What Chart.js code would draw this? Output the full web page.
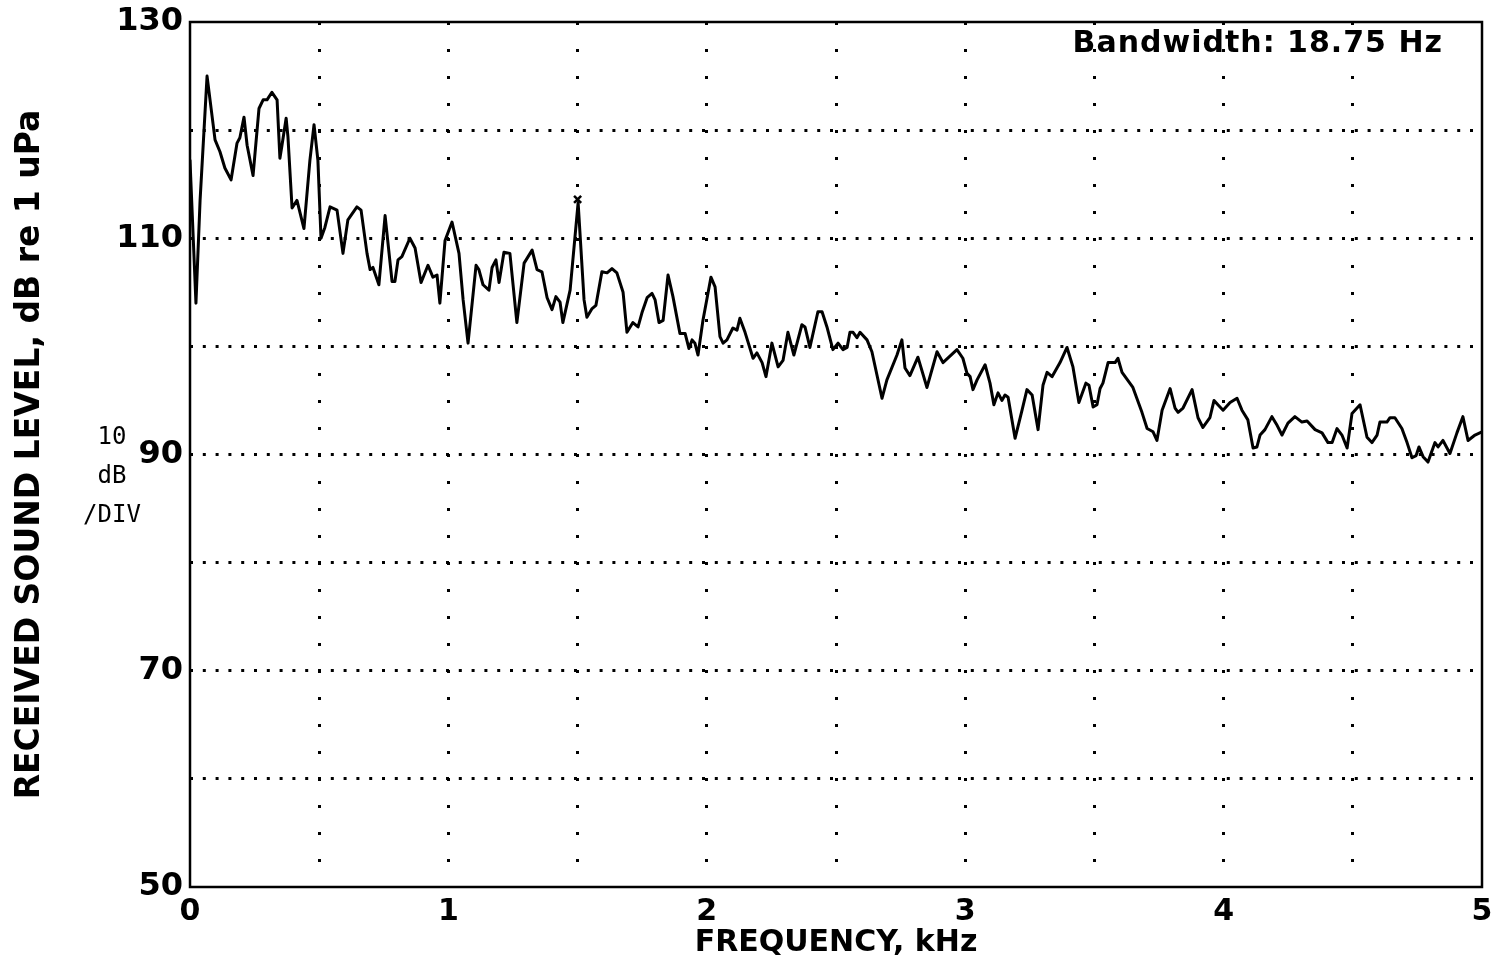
<!DOCTYPE html>
<html><head><meta charset="utf-8">
<script src="https://cdn.jsdelivr.net/npm/chart.js@4.4.1/dist/chart.umd.min.js"></script>
<style>
html,body{margin:0;padding:0;background:#fff;}
#wrap{position:relative;width:1492px;height:980px;}
#bw{position:absolute;right:49px;top:27px;font:bold 30px "DejaVu Sans";letter-spacing:1px;color:#000;line-height:30px;white-space:nowrap;}
#divlbl{position:absolute;left:52px;top:417px;width:120px;text-align:center;font:24px "DejaVu Sans Mono";line-height:39px;color:#000;}
</style></head><body>
<div id="wrap"><canvas id="c" width="1492" height="980"></canvas>
<div id="bw">Bandwidth: 18.75 Hz</div>
<div id="divlbl">10<br>dB<br>/DIV</div></div>
<script>
const freqKHz = [0.00,0.023,0.039,0.066,0.097,0.116,0.135,0.159,0.182,0.193,0.209,0.221,0.244,0.267,0.283,0.298,0.317,0.337,0.348,0.356,0.372,0.379,0.395,0.414,0.441,0.464,0.480,0.495,0.507,0.522,0.542,0.569,0.592,0.611,0.646,0.662,0.685,0.697,0.708,0.731,0.755,0.766,0.782,0.793,0.805,0.820,0.851,0.871,0.894,0.921,0.940,0.956,0.967,0.987,1.014,1.041,1.057,1.076,1.107,1.118,1.134,1.157,1.169,1.184,1.196,1.215,1.238,1.265,1.293,1.324,1.343,1.362,1.382,1.401,1.416,1.432,1.443,1.471,1.502,1.525,1.536,1.556,1.571,1.594,1.614,1.633,1.652,1.676,1.691,1.714,1.734,1.749,1.769,1.788,1.800,1.815,1.831,1.850,1.869,1.896,1.916,1.931,1.943,1.954,1.966,1.985,2.016,2.032,2.051,2.063,2.078,2.101,2.117,2.128,2.148,2.179,2.194,2.214,2.229,2.252,2.276,2.295,2.314,2.337,2.368,2.380,2.399,2.430,2.446,2.465,2.488,2.508,2.527,2.543,2.554,2.566,2.581,2.593,2.620,2.639,2.678,2.697,2.736,2.755,2.767,2.786,2.817,2.852,2.891,2.914,2.968,2.991,3.007,3.019,3.030,3.046,3.077,3.096,3.111,3.127,3.142,3.154,3.166,3.193,3.220,3.239,3.259,3.282,3.301,3.317,3.336,3.367,3.394,3.417,3.440,3.467,3.479,3.495,3.510,3.522,3.533,3.553,3.580,3.591,3.607,3.649,3.684,3.704,3.727,3.742,3.762,3.793,3.812,3.824,3.843,3.878,3.901,3.920,3.947,3.963,3.978,3.998,4.025,4.052,4.071,4.094,4.114,4.129,4.141,4.160,4.187,4.207,4.226,4.249,4.276,4.303,4.323,4.354,4.381,4.404,4.420,4.439,4.458,4.478,4.497,4.528,4.555,4.574,4.594,4.605,4.632,4.644,4.663,4.690,4.710,4.729,4.745,4.756,4.772,4.791,4.818,4.830,4.849,4.876,4.903,4.926,4.946,4.973,5.000];
const levelDB = [117.2,104.0,113.5,125.0,119.1,118.0,116.5,115.4,118.8,119.3,121.2,118.6,115.8,122.0,122.8,122.8,123.5,122.8,117.4,118.6,121.1,119.4,112.8,113.5,110.9,117.2,120.5,117.2,110.0,111.0,112.9,112.6,108.6,111.7,112.9,112.6,108.6,107.1,107.3,105.7,112.1,109.6,106.0,106.0,108.0,108.3,110.0,109.1,105.9,107.5,106.4,106.6,104.0,109.8,111.5,108.6,104.3,100.3,107.5,107.1,105.7,105.2,107.3,108.0,105.9,108.7,108.6,102.2,107.7,108.9,107.1,106.9,104.5,103.4,104.6,104.1,102.2,105.2,113.3,104.3,102.7,103.5,103.8,106.9,106.8,107.2,106.8,105.0,101.3,102.2,101.8,103.1,104.5,104.9,104.3,102.2,102.4,106.6,104.6,101.2,101.2,99.8,100.6,100.3,99.2,102.4,106.4,105.5,100.9,100.3,100.6,101.7,101.5,102.6,101.3,98.9,99.4,98.5,97.2,100.3,98.1,98.7,101.3,99.2,102.0,101.8,99.9,103.2,103.2,101.8,99.7,100.3,99.7,99.9,101.3,101.3,100.8,101.3,100.6,99.5,95.2,96.9,99.2,100.6,98.0,97.3,99.0,96.2,99.5,98.5,99.7,98.9,97.5,97.2,96.0,96.9,98.3,96.6,94.6,95.7,95.0,95.5,95.3,91.5,94.1,96.0,95.5,92.3,96.4,97.6,97.2,98.5,99.9,98.1,94.8,96.6,96.4,94.4,94.6,96.1,96.6,98.5,98.5,98.9,97.6,96.2,93.9,92.4,92.1,91.3,94.1,96.1,94.3,93.9,94.3,96.0,93.4,92.5,93.4,95.0,94.6,94.1,94.8,95.2,94.1,93.2,90.6,90.7,91.8,92.3,93.5,92.7,91.8,92.9,93.5,93.0,93.1,92.3,92.0,91.1,91.1,92.4,91.8,90.6,93.8,94.6,91.6,91.1,91.8,93.0,93.0,93.4,93.4,92.4,91.1,89.7,89.9,90.7,89.8,89.3,91.1,90.7,91.3,90.1,92.0,93.5,91.3,91.8,92.1];
const markerFreq = [1.5];
const markerLevel = [113.6];
const xTickLabels = ['0','1','2','3','4','5'];
const yTickLabels = ['50','70','90','110','130'];

const FONT = 'DejaVu Sans';
const framePlugin = {
  id: 'frame',
  afterDraw(chart) {
    const {ctx, chartArea: a} = chart;
    ctx.save();
    ctx.strokeStyle = '#000';
    ctx.lineWidth = 2.5;
    ctx.strokeRect(a.left, a.top, a.right - a.left, a.bottom - a.top);
    ctx.restore();
  }
};

new Chart(document.getElementById('c'), {
  type: 'line',
  data: {
    datasets: [
      {
        data: freqKHz.map((f, i) => ({x: f, y: levelDB[i]})),
        borderColor: '#000', borderWidth: 3, pointRadius: 0, tension: 0, fill: false,
        borderJoinStyle: 'round', borderCapStyle: 'round'
      },
      {
        type: 'scatter',
        data: markerFreq.map((f, i) => ({x: f, y: markerLevel[i]})),
        pointStyle: 'crossRot', pointRadius: 5, borderColor: '#000', borderWidth: 2.5, backgroundColor: '#000'
      }
    ]
  },
  options: {
    responsive: false, animation: false, devicePixelRatio: 1,
    layout: {padding: {top: 22, right: 10, left: 0, bottom: 0}},
    plugins: {legend: {display: false}, tooltip: {enabled: false}},
    scales: {
      x: {
        type: 'linear', min: 0, max: 5,
        afterFit: s => { s.height = 93; s.paddingLeft = 0; s.paddingRight = 0; },
        ticks: {
          stepSize: 0.5, autoSkip: false, maxRotation: 0, padding: 7, color: '#000',
          font: {family: FONT, size: 30, weight: 'bold'},
          callback: v => Math.abs(v - Math.round(v)) < 1e-6 ? xTickLabels[Math.round(v)] : ''
        },
        grid: {
          color: c => (c.tick && c.tick.value > 0.01 && c.tick.value < 4.99) ? '#000' : 'rgba(0,0,0,0)',
          lineWidth: 3, drawTicks: false
        },
        border: {display: false, dash: [3, 24]},
        title: {display: true, text: 'FREQUENCY, kHz', color: '#000',
          font: {family: FONT, size: 30, weight: 'bold'}, padding: {top: 0, bottom: 19}}
      },
      y: {
        type: 'linear', min: 50, max: 130,
        afterFit: s => { s.width = 190; s.paddingTop = 0; s.paddingBottom = 0; },
        ticks: {
          stepSize: 10, autoSkip: false, padding: 7, color: '#000',
          font: {family: FONT, size: 32, weight: 'bold'},
          callback: v => yTickLabels.includes(String(v)) ? String(v) : ''
        },
        grid: {
          color: c => (c.tick && c.tick.value > 50 && c.tick.value < 130) ? '#000' : 'rgba(0,0,0,0)',
          lineWidth: 3, drawTicks: false
        },
        border: {display: false, dash: [3, 9.8]},
        title: {display: true, text: 'RECEIVED SOUND LEVEL, dB re 1 uPa', color: '#000',
          font: {family: FONT, size: 33, weight: 'bold'}, padding: {top: 11, bottom: 0}}
      }
    }
  },
  plugins: [framePlugin]
});
</script>
</body></html>
